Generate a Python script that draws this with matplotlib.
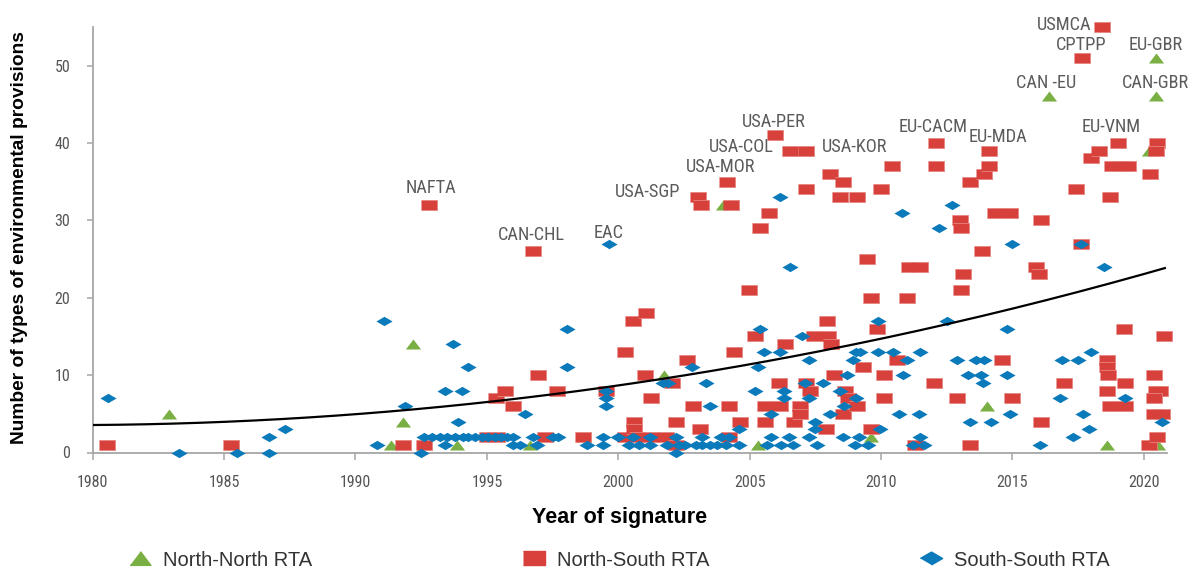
import matplotlib
matplotlib.use('Agg')
import matplotlib.pyplot as plt
from matplotlib import font_manager
from matplotlib.lines import Line2D
import numpy as np

# North-North RTAs
nn_year = [1982.9, 1991.35, 1991.8, 1992.2, 1993.85, 1996.65, 2001.75, 2004.0, 2005.3,
           2009.6, 2014.05, 2016.4, 2018.6, 2020.2, 2020.45, 2020.45, 2020.55]
nn_prov = [5, 1, 4, 14, 1, 1, 10, 32, 1,
           2, 6, 46, 1, 39, 51, 46, 1]

# North-South RTAs
ns_year = [1980.55, 1985.25, 1991.8, 1992.6, 1992.8, 1995.0, 1995.4, 1995.35, 1995.7, 1996.0,
           1996.75, 1996.95, 1997.2, 1997.65, 1998.65, 1999.55, 2000.25, 2000.25, 2000.55, 2000.6,
           2000.6, 2000.7, 2001.05, 2001.0, 2001.25, 2001.25, 2001.8, 2002.05, 2002.2, 2002.2,
           2002.6, 2002.85, 2003.1, 2003.05, 2003.15, 2004.15, 2004.3, 2004.2, 2004.2, 2004.4,
           2004.65, 2004.98, 2005.2, 2005.4, 2005.6, 2005.6, 2005.73, 2005.95, 2006.1, 2006.15,
           2006.35, 2006.55, 2006.7, 2006.9, 2006.9, 2007.15, 2007.15, 2007.15, 2007.3, 2007.45,
           2007.9, 2007.95, 2008.0, 2008.05, 2008.1, 2008.2, 2008.45, 2008.55, 2008.55, 2008.62,
           2008.75, 2009.1, 2009.1, 2009.3, 2009.45, 2009.6, 2009.6, 2009.85, 2010.0, 2010.1,
           2010.1, 2010.4, 2010.6, 2011.0, 2011.05, 2011.3, 2011.5, 2012.0, 2012.1, 2012.1,
           2012.9, 2013.0, 2013.05, 2013.1, 2013.05, 2013.4, 2013.4, 2013.85, 2013.9, 2014.1,
           2014.1, 2014.35, 2014.6, 2014.9, 2015.0, 2015.9, 2016.0, 2016.1, 2016.1, 2016.95,
           2017.4, 2017.6, 2017.65, 2018.0, 2018.3, 2018.4, 2018.6, 2018.6, 2018.65, 2018.6,
           2018.7, 2018.7, 2018.8, 2019.0, 2019.15, 2019.4, 2019.25, 2019.3, 2019.3, 2020.2,
           2020.25, 2020.4, 2020.45, 2020.6, 2020.4, 2020.4, 2020.7, 2020.5, 2020.45, 2020.5,
           2020.75]
ns_prov = [1, 1, 1, 1, 32, 2, 2, 7, 8, 6,
           26, 10, 2, 8, 2, 8, 13, 2, 17, 4,
           3, 2, 18, 10, 7, 2, 2, 9, 4, 1,
           12, 6, 3, 33, 32, 35, 32, 6, 2, 13,
           4, 21, 15, 29, 6, 4, 31, 41, 9, 6,
           14, 39, 4, 6, 5, 39, 34, 9, 8, 15,
           3, 17, 15, 36, 14, 10, 33, 35, 5, 8,
           7, 33, 6, 11, 25, 20, 3, 16, 34, 10,
           7, 37, 12, 20, 24, 1, 24, 9, 40, 37,
           7, 30, 29, 23, 21, 35, 1, 26, 36, 37,
           39, 31, 12, 31, 7, 24, 23, 30, 4, 9,
           34, 27, 51, 38, 39, 55, 12, 11, 10, 8,
           6, 33, 37, 40, 37, 37, 16, 9, 6, 1,
           36, 10, 8, 8, 7, 5, 5, 40, 39, 2,
           15]

# South-South RTAs
ss_year = [1980.6, 1983.3, 1985.5, 1986.7, 1986.7, 1987.3, 1990.8, 1991.1, 1991.9, 1992.5,
           1993.4, 1993.4, 1993.7, 1993.9, 1994.05, 1994.3, 1992.6, 1992.9, 1993.2, 1993.5,
           1993.8, 1994.1, 1994.3, 1994.55, 1994.8, 1995.05, 1995.3, 1995.55, 1995.75, 1996.0,
           1996.0, 1996.25, 1996.45, 1996.75, 1996.9, 1997.5, 1997.7, 1998.05, 1998.05, 1998.8,
           1999.4, 1999.4, 1999.55, 1999.55, 1999.55, 1999.65, 2000.0, 2000.4, 2000.55, 2000.8,
           2001.2, 2001.2, 2001.7, 2001.9, 2001.85, 2002.2, 2002.2, 2002.3, 2002.55, 2002.8,
           2002.95, 2003.2, 2003.35, 2003.2, 2003.5, 2003.5, 2003.75, 2003.9, 2004.1, 2004.2,
           2004.6, 2004.6, 2005.2, 2005.3, 2005.4, 2005.55, 2005.65, 2005.8, 2005.8, 2006.15,
           2006.15, 2006.2, 2006.3, 2006.3, 2006.5, 2006.55, 2006.65, 2007.0, 2007.1, 2007.25,
           2007.25, 2007.25, 2007.5, 2007.5, 2007.55, 2007.8, 2008.05, 2008.45, 2008.55, 2008.6,
           2008.7, 2008.95, 2009.05, 2009.05, 2009.0, 2009.2, 2009.15, 2009.5, 2009.9, 2009.9,
           2009.95, 2010.45, 2010.8, 2010.85, 2010.7, 2011.0, 2011.2, 2011.45, 2011.5, 2011.5,
           2011.65, 2012.2, 2012.5, 2012.7, 2012.9, 2013.3, 2013.4, 2013.6, 2013.8, 2013.87,
           2013.9, 2014.2, 2014.8, 2014.8, 2014.9, 2014.97, 2016.05, 2016.8, 2016.9, 2017.3,
           2017.5, 2017.6, 2017.7, 2017.9, 2018.0, 2018.5, 2019.27, 2020.7]
ss_prov = [7, 0, 0, 0, 2, 3, 1, 17, 6, 0,
           8, 1, 14, 4, 8, 11, 2, 2, 2, 2,
           2, 2, 2, 2, 2, 2, 2, 2, 2, 2,
           1, 1, 5, 2, 1, 2, 2, 16, 11, 1,
           2, 1, 8, 7, 6, 27, 2, 1, 2, 1,
           2, 1, 9, 9, 1, 2, 0, 1, 1, 11,
           1, 2, 9, 1, 6, 1, 1, 2, 1, 2,
           3, 1, 8, 11, 16, 13, 1, 5, 2, 13,
           33, 1, 8, 7, 2, 24, 1, 15, 9, 12,
           7, 2, 4, 3, 1, 9, 5, 8, 2, 6,
           10, 12, 13, 7, 1, 13, 2, 1, 17, 13,
           3, 13, 31, 10, 5, 12, 1, 5, 13, 2,
           1, 29, 17, 32, 12, 10, 4, 12, 10, 9,
           12, 4, 16, 10, 5, 27, 1, 7, 12, 2,
           12, 27, 5, 3, 13, 24, 7, 4]

# trend line (fitted as 2nd order polynomial)
trend_year = [1980, 1990, 1995, 2000, 2005, 2010, 2020.8]
trend_val = [3.6, 5.0, 6.3, 8.7, 11.2, 15.1, 23.7]

# agreement labels
lab_text = ['NAFTA', 'CAN-CHL', 'EAC', 'USA-SGP', 'USA-MOR', 'USA-COL', 'USA-PER', 'USA-KOR',
            'EU-CACM', 'EU-MDA', 'EU-VNM', 'CAN -EU', 'CAN-GBR', 'EU-GBR', 'CPTPP', 'USMCA']
lab_x = [1992.87, 1996.68, 1999.65, 2001.1, 2003.9, 2004.7, 2005.93, 2009.0,
         2012.0, 2014.45, 2018.75, 2016.3, 2020.46, 2020.46, 2017.6, 2016.95]
lab_y = [34.2, 28.1, 28.3, 33.6, 36.9, 39.5, 42.7, 39.5,
         42.0, 40.8, 42.1, 47.8, 47.8, 52.6, 52.6, 55.2]

avail = {f.name for f in font_manager.fontManager.ttflist}
narrow = 'DejaVu Sans'
for nm in ['Roboto Condensed', 'Liberation Sans Narrow', 'DejaVu Sans Condensed']:
    if nm in avail:
        narrow = nm
        break

green = '#7ab043'
red = '#d8403b'
blue = '#0a7abb'
grey = '#a6a6a6'

tri = [(-1, -0.66), (1, -0.66), (0, 0.66)]
rect = [(-1, -0.6), (1, -0.6), (1, 0.6), (-1, 0.6)]
dia = [(-1, 0), (0, 0.58), (1, 0), (0, -0.58)]

fig = plt.figure(figsize=(11.92, 5.70), dpi=100)
ax = fig.add_axes([92.7 / 1192, 1 - 452.5 / 570, 1074 / 1192, 425.7 / 570])

ax.scatter(nn_year, nn_prov, marker=tri, s=120, color=green, linewidths=0, zorder=3, clip_on=False)
ax.scatter(ns_year, ns_prov, marker=rect, s=120, color=red, linewidths=0.6,
           edgecolors='#e78580', zorder=4, clip_on=False)
ax.scatter(ss_year, ss_prov, marker=dia, s=135, color=blue, linewidths=0, zorder=5, clip_on=False)

coef = np.polyfit(trend_year, trend_val, 2)
xx = np.linspace(1980, 2020.8, 200)
ax.plot(xx, np.polyval(coef, xx), color='black', lw=1.6, zorder=6)

for t, x, y in zip(lab_text, lab_x, lab_y):
    ax.text(x, y, t, ha='center', va='center', fontsize=13.2, color='#5b5b5b',
            family=narrow, fontstretch='condensed', clip_on=False, zorder=7)

ax.set_xlim(1980, 2020.87)
ax.set_ylim(0, 55)
ax.set_xticks(range(1980, 2021, 5))
ax.set_yticks(range(0, 51, 10))
for s in ['top', 'right']:
    ax.spines[s].set_visible(False)
for s in ['left', 'bottom']:
    ax.spines[s].set_color(grey)
    ax.spines[s].set_linewidth(1.3)
ax.tick_params(axis='y', length=4, width=1.1, color=grey, pad=12, labelsize=11.5, labelcolor='#555555')
ax.tick_params(axis='x', length=5, width=1.1, color=grey, pad=11, labelsize=11.5, labelcolor='#555555')
for lab in ax.get_xticklabels() + ax.get_yticklabels():
    lab.set_family(narrow)
    lab.set_stretch('condensed')

fig.text(20 / 1192, 1 - 238 / 570, 'Number of types of environmental provisions', rotation=90,
         ha='center', va='center', fontsize=13.8, fontweight='bold', family='Liberation Sans')
fig.text(620 / 1192, 1 - 518 / 570, 'Year of signature', ha='center', va='center',
         fontsize=15.5, fontweight='bold', family='Liberation Sans')

handles = [Line2D([], [], ls='none', marker=tri, markersize=15, color=green),
           Line2D([], [], ls='none', marker=rect, markersize=16, color=red),
           Line2D([], [], ls='none', marker=dia, markersize=16, color=blue)]
fig.legend(handles, ['North-North RTA', 'North-South RTA', 'South-South RTA'],
           loc='center left', bbox_to_anchor=(107 / 1192, 1 - 560 / 570), ncol=3,
           frameon=False, columnspacing=10.25, handletextpad=0.4, handlelength=1.5,
           prop={'family': 'Liberation Sans', 'size': 14.5}, labelcolor='#333333')

fig.savefig('out.png', dpi=100)
